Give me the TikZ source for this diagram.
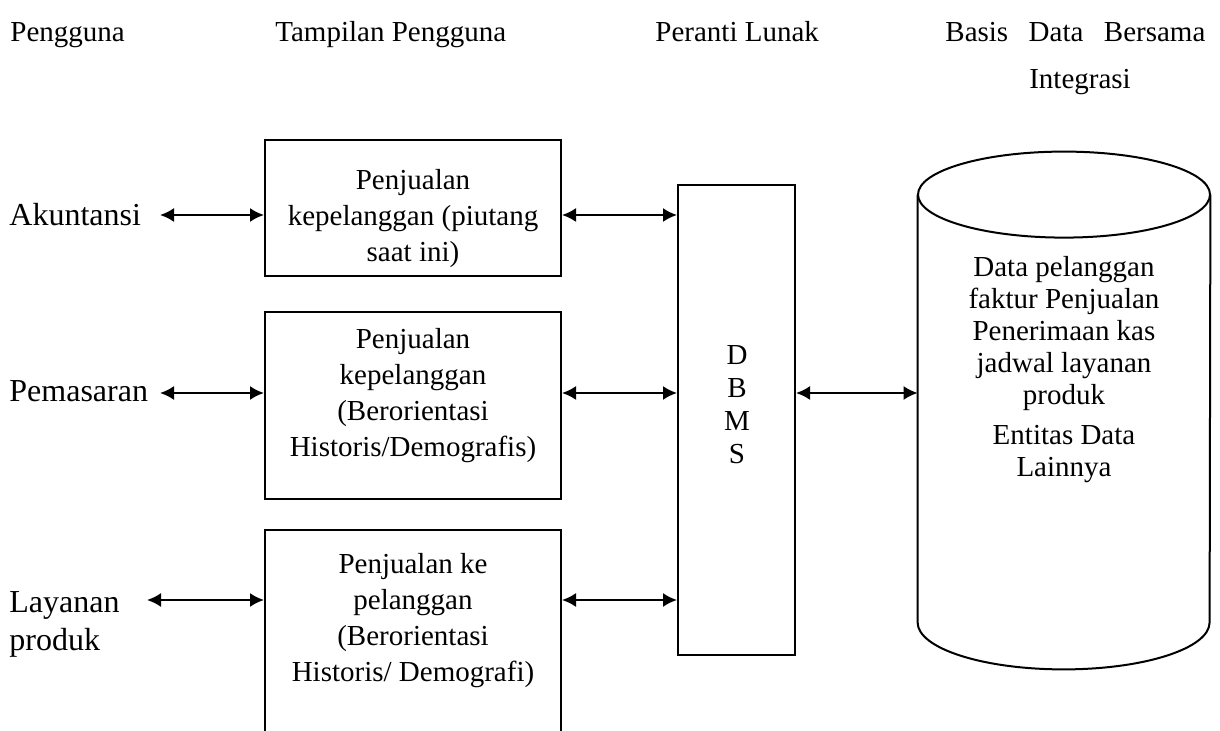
\documentclass[tikz,border=0pt]{standalone}
\usepackage{fontspec}
\setmainfont{Liberation Serif}
\usetikzlibrary{arrows.meta}

\begin{document}
\begin{tikzpicture}
[%%%%%%%%%%%%%%%%%%%%%%%%%%%%%%
x=0.5pt,y=-0.5pt,
every node/.style={font=\fontsize{14.5}{18}\selectfont},
kotak/.style={rectangle,draw=black,line width=1pt,inner sep=0pt},
teks/.style={anchor=base west,inner sep=0pt},
kiri/.style={teks,font=\fontsize{16}{19}\selectfont},
isi/.style={align=center,inner sep=0pt},
panah/.style={{Latex[length=7pt,width=7pt]}-{Latex[length=7pt,width=7pt]},line width=1pt},
]%%%%%%%%%%%%%%%%%%%%%%%%%%%%%%

\useasboundingbox (0,0) rectangle (1220,731);

% judul kolom
\node[teks] (hPengguna) at (10,42){Pengguna};
\node[teks] (hTampilan) at (275,42){Tampilan Pengguna};
\node[teks] (hPeranti) at (655,42){Peranti Lunak};
\node[teks] (hBasis) at (945,42){\makebox[130pt][s]{Basis Data Bersama}};
\node[teks,anchor=base] (hIntegrasi) at (1080,89){Integrasi};

% pengguna
\node[kiri] (uAkun) at (9,226){Akuntansi};
\node[kiri] (uPemasaran) at (9,402){Pemasaran};
\node[kiri] (uLayanan) at (9,612){Layanan};
\node[kiri] (uProduk) at (9,650){produk};

% tampilan pengguna
\node[kotak,minimum width=148pt,minimum height=68pt] (box1) at (413,208){};
\node[kotak,minimum width=148pt,minimum height=93.5pt] (box2) at (413,405.5){};
\node[kotak,minimum width=148pt,minimum height=125pt] (box3) at (413,655){};
\node[isi] (isi1) at (413,219){Penjualan\\kepelanggan (piutang\\saat ini)};
\node[isi] (isi2) at (413,396){Penjualan\\kepelanggan\\(Berorientasi\\Historis/Demografis)};
\node[isi] (isi3) at (413,621){Penjualan ke\\pelanggan\\(Berorientasi\\Historis/ Demografi)};

% peranti lunak
\node[kotak,minimum width=58.5pt,minimum height=235pt] (dbms) at (736.5,420){};
\node[isi,font=\fontsize{14.5}{16.5}\selectfont] (dbmsisi) at (737,405){D\\B\\M\\S};

% basis data
\node[inner sep=0pt,minimum width=146pt,minimum height=213.5pt] (db) at (1064,408.5){};
\draw[line width=1pt] (db.north) ellipse [x radius=73pt,y radius=21.5pt];
\draw[line width=1pt] (db.north west) -- (db.south west)
  arc[start angle=180,end angle=360,x radius=73pt,y radius=23.5pt] -- (db.north east);
\node[isi,font=\fontsize{14.5}{16}\selectfont] (dbisi) at (1064,370)
  {Data pelanggan\\faktur Penjualan\\Penerimaan kas\\jadwal layanan\\produk\\[4pt]Entitas Data\\Lainnya};

% panah
\coordinate (kAkun) at (160,215);
\coordinate (kPemasaran) at (160,393);
\coordinate (kLayanan) at (147,600);
\draw[panah] (kAkun) -- (kAkun -| box1.west);
\draw[panah] (kPemasaran) -- (kPemasaran -| box2.west);
\draw[panah] (kLayanan) -- (kLayanan -| box3.west);
\draw[panah] (kAkun -| box1.east) -- (kAkun -| dbms.west);
\draw[panah] (kPemasaran -| box2.east) -- (kPemasaran -| dbms.west);
\draw[panah] (kLayanan -| box3.east) -- (kLayanan -| dbms.west);
\draw[panah] (kPemasaran -| dbms.east) -- (kPemasaran -| db.west);
\end{tikzpicture}
\end{document}
